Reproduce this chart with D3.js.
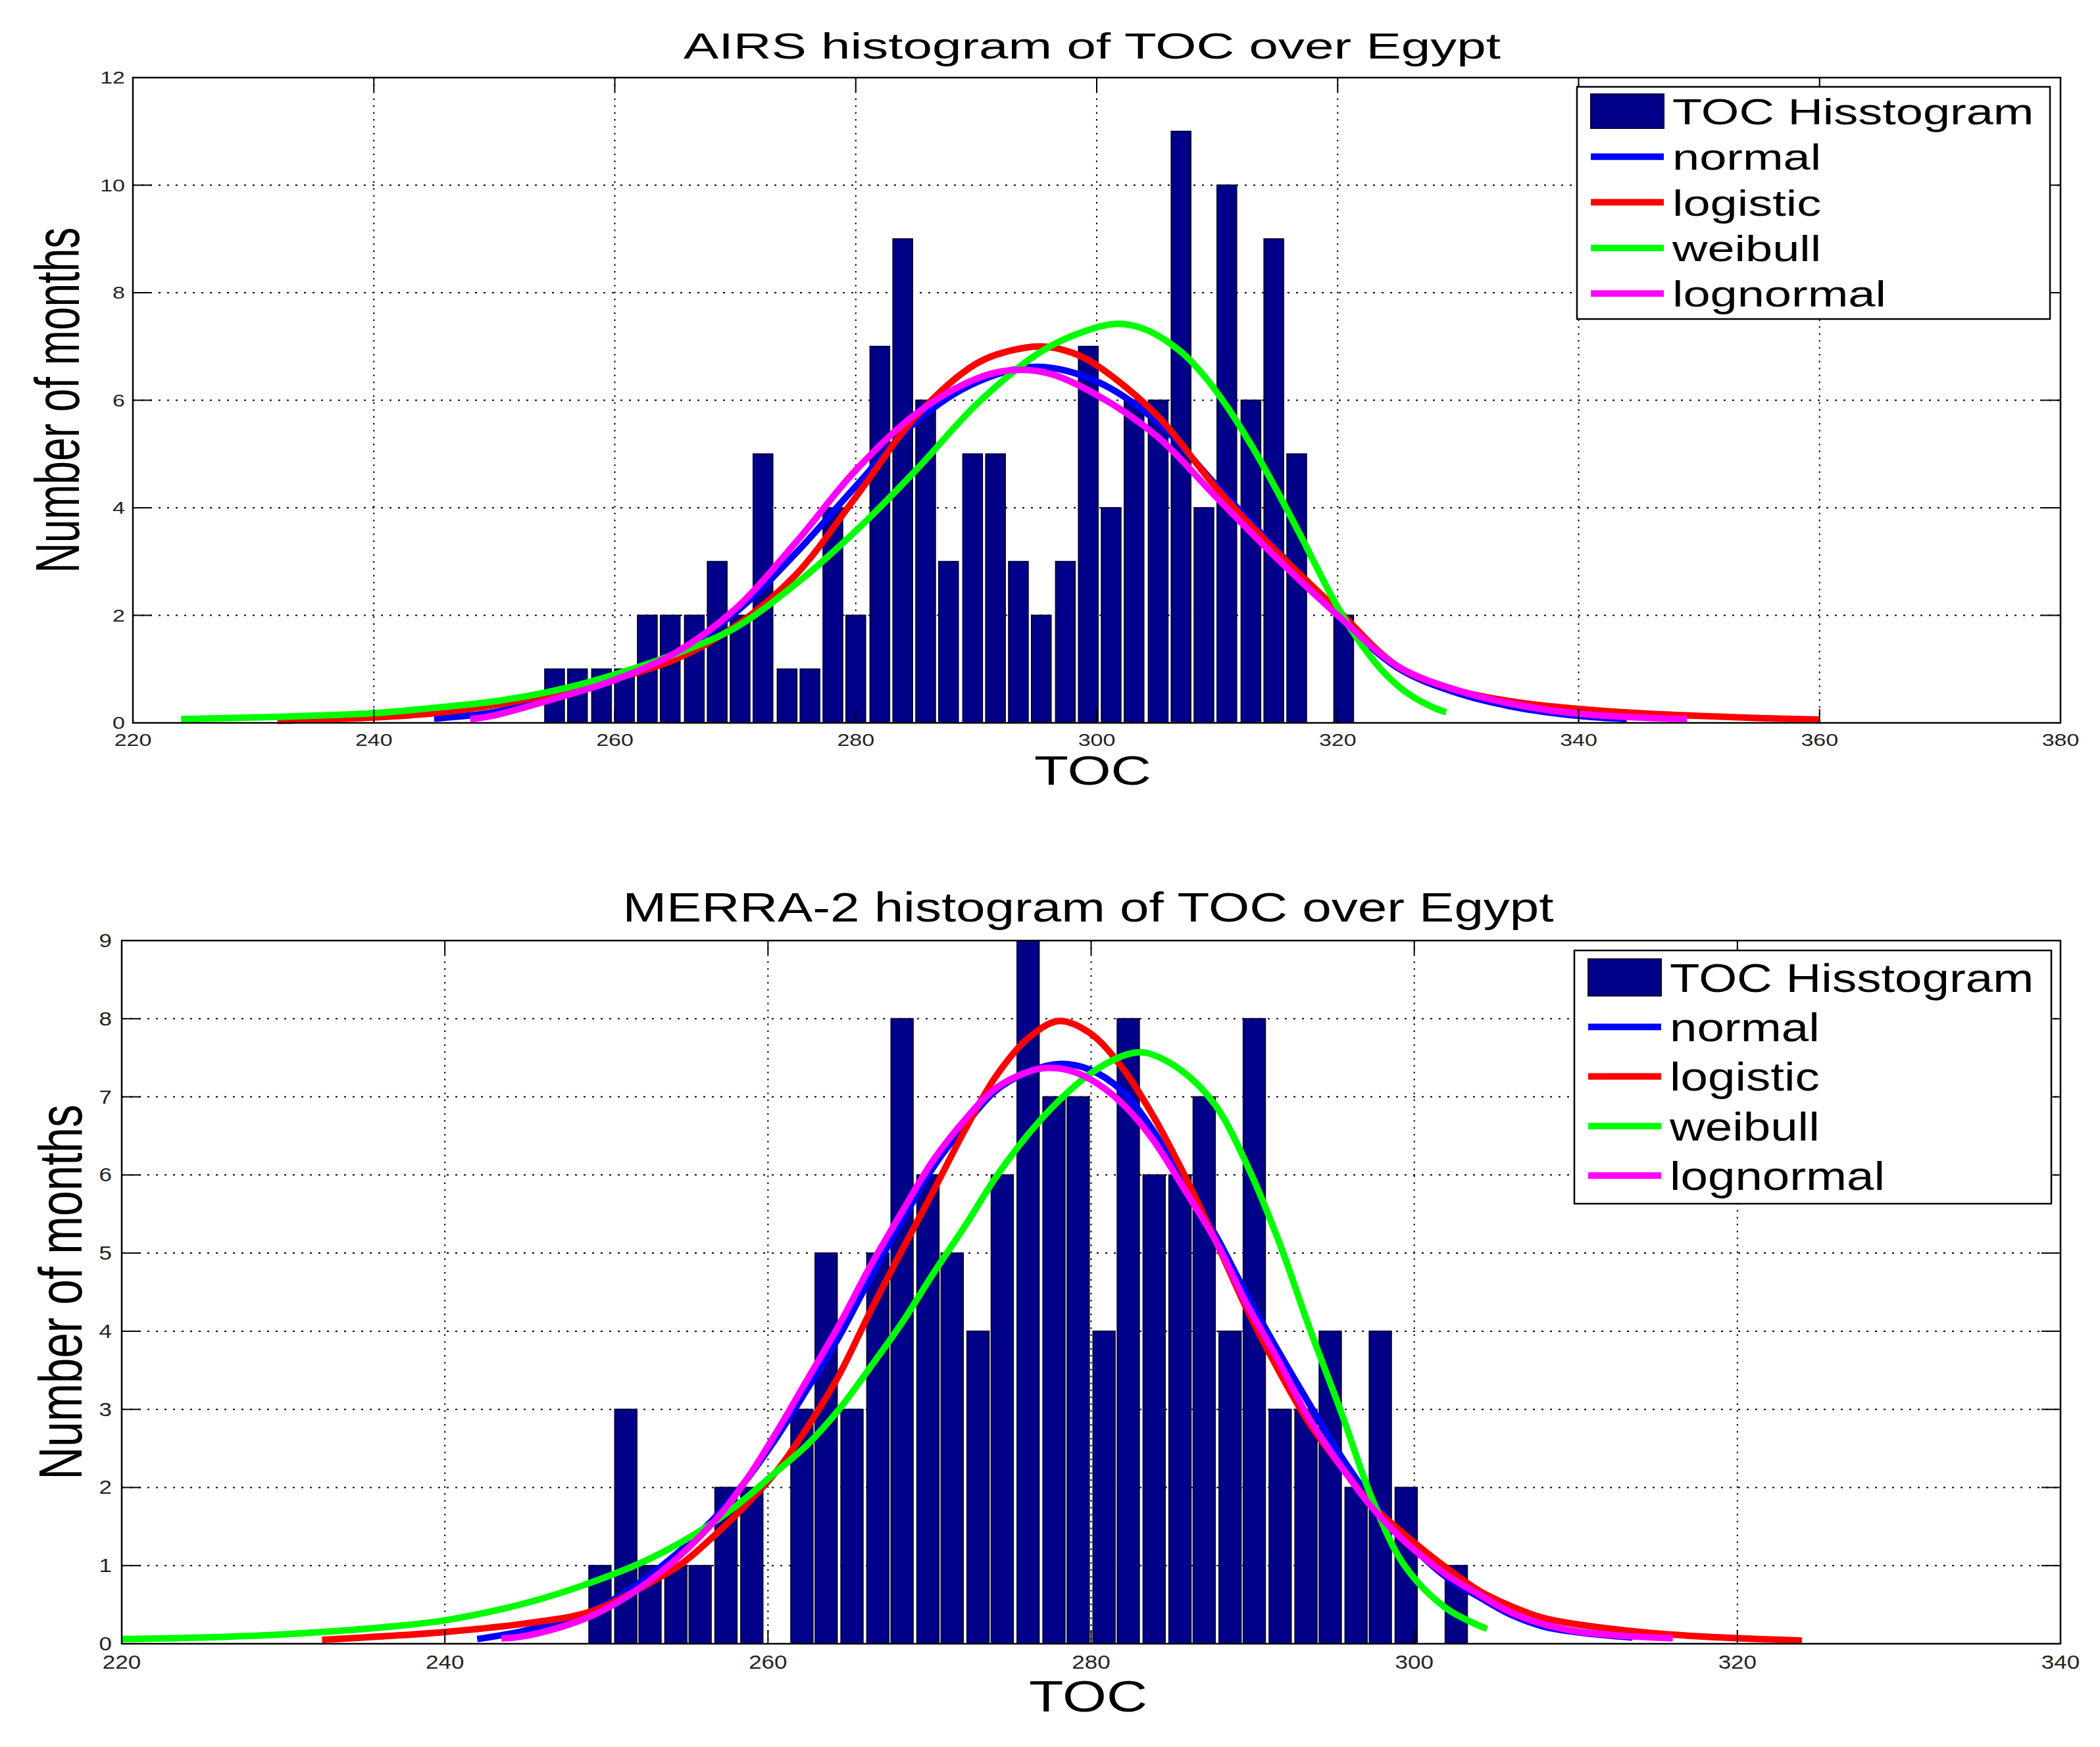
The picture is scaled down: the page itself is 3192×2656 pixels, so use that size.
<!DOCTYPE html>
<html>
<head>
<meta charset="utf-8">
<script src="https://cdn.jsdelivr.net/npm/d3@7"></script>
<style>
body { margin: 0; background: #fff; }
text { font-family: 'Liberation Sans', Arial, Helvetica, sans-serif; }
</style>
</head>
<body>
<svg id="fig" width="3192" height="2656"></svg>
<script>
// AIRS (top panel)
const airsCenters = [255.0, 256.9, 258.9, 260.8, 262.7, 264.6, 266.6, 268.5, 270.4, 272.3, 274.3, 276.2,
    278.1, 280.0, 282.0, 283.9, 285.8, 287.7, 289.7, 291.6, 293.5, 295.4, 297.4, 299.3, 301.2, 303.1,
    305.1, 307.0, 308.9, 310.8, 312.8, 314.7, 316.6, 318.5, 320.5]
const airsCounts = [1, 1, 1, 1, 2, 2, 2, 3, 2, 5, 1, 1, 4, 2, 7, 9, 6, 3, 5, 5, 3, 2, 3, 7, 4, 6, 6, 11, 4, 10, 6, 9, 5, 0, 2]

const airsNormal = [[245,0.08],[250,0.2],[255,0.48],[260,0.8],[265,1.3],[270,2.05],[275,3.15],[280,4.4],[285,5.6],
    [290,6.33],[295,6.62],[300,6.35],[305,5.6],[310,4.4],[315,3.2],[320,2.0],[325,1.02],[330,0.55],[335,0.28],[340,0.13],[344,0.07]]
const airsLogistic = [[232,0.04],[240,0.1],[245,0.18],[250,0.33],[255,0.55],[260,0.82],[265,1.18],[270,1.8],[275,2.75],
    [280,4.2],[285,5.7],[290,6.68],[293,6.93],[295.5,7.0],[298,6.88],[300,6.65],[305,5.72],[310,4.35],[315,3.17],[320,2.1],
    [325,1.05],[330,0.6],[335,0.38],[340,0.26],[345,0.18],[350,0.13],[355,0.09],[360,0.06]]
const airsWeibull = [[224,0.07],[230,0.1],[240,0.18],[245,0.28],[250,0.4],[255,0.6],[260,0.9],[265,1.28],[270,1.77],
    [275,2.58],[280,3.57],[285,4.7],[290,5.92],[295,6.85],[298,7.2],[301.5,7.42],[304,7.32],[307,6.9],[309,6.43],[311,5.82],
    [313,5.1],[315,4.3],[317,3.45],[320,2.15],[322,1.45],[324,0.9],[326,0.52],[328,0.28],[329,0.2]]
const airsLognormal = [[248,0.07],[250,0.14],[255,0.45],[260,0.8],[265,1.3],[270,2.12],[275,3.35],[280,4.7],[285,5.75],
    [290,6.4],[293,6.56],[296,6.5],[300,6.1],[305,5.33],[310,4.18],[315,3.05],[320,2.0],[325,1.05],[330,0.6],[335,0.33],
    [340,0.17],[345,0.1],[349,0.07]]

const airsXTicks = [220, 240, 260, 280, 300, 320, 340, 360, 380]
const airsYTicks = [0, 2, 4, 6, 8, 10, 12]

// MERRA-2 (bottom panel)
const merraCenters = [249.6, 251.2, 252.7, 254.3, 255.8, 257.4, 259.0, 260.5, 262.1, 263.6, 265.2, 266.8,
    268.3, 269.9, 271.4, 273.0, 274.5, 276.1, 277.7, 279.2, 280.8, 282.3, 283.9, 285.5, 287.0, 288.6,
    290.1, 291.7, 293.3, 294.8, 296.4, 297.9, 299.5, 301.1, 302.6]
const merraCounts = [1, 3, 1, 1, 1, 2, 2, 0, 3, 5, 3, 5, 8, 6, 5, 4, 6, 9, 7, 7, 4, 8, 6, 6, 7, 4, 8, 3, 3, 4, 2, 4, 2, 0, 1]

const merraNormal = [[242,0.06],[245,0.17],[249,0.41],[252.7,0.88],[256.6,1.59],[258.6,2.08],[260.5,2.63],[262.4,3.25],
    [264.4,3.93],[266.3,4.67],[268.3,5.41],[270.2,6.09],[272.2,6.64],[274.1,7.08],[276.1,7.32],[278,7.42],[279.9,7.35],
    [281.9,7.08],[283.8,6.58],[285.7,5.9],[287.7,5.23],[289.6,4.48],[291.6,3.74],[293.5,3.07],[295.5,2.39],[297.4,1.83],
    [299.4,1.34],[302,0.85],[304,0.6],[306,0.37],[308,0.22],[310,0.15],[313.5,0.08]]
const merraLogistic = [[232.4,0.05],[235,0.08],[240,0.15],[245,0.26],[249,0.41],[252.7,0.78],[254.7,1.03],[256.6,1.37],
    [258.6,1.77],[260.5,2.2],[262.4,2.76],[264.4,3.44],[266.3,4.24],[268.3,5.04],[270.2,5.78],[272.2,6.58],[274.1,7.26],
    [276.1,7.75],[278,7.97],[279.9,7.82],[281.9,7.38],[283.8,6.77],[285.7,6.03],[287.7,5.16],[289.6,4.3],[291.6,3.5],
    [293.5,2.82],[295.5,2.26],[297.4,1.77],[299.4,1.4],[302,0.97],[304,0.68],[306,0.48],[308,0.33],[310,0.25],[314,0.15],
    [318,0.09],[324,0.04]]
const merraWeibull = [[220,0.06],[225,0.08],[230,0.12],[235,0.19],[240,0.3],[245,0.52],[249,0.78],[252.7,1.09],
    [256.6,1.55],[258.6,1.86],[260.5,2.2],[262.4,2.54],[264.4,3.0],[266.3,3.53],[268.3,4.11],[270.2,4.73],[272.2,5.35],
    [274.1,5.97],[276.1,6.52],[278,6.95],[279.9,7.29],[281.9,7.52],[283,7.57],[283.8,7.54],[285.7,7.32],[287.7,6.89],
    [289.6,6.15],[291.6,5.16],[293.5,4.05],[295.5,2.95],[297.4,1.85],[299.4,1.0],[302,0.45],[304.5,0.19]]
const merraLognormal = [[243.5,0.07],[245,0.1],[249,0.35],[252.7,0.81],[256.6,1.55],[258.6,2.08],[260.5,2.7],[262.4,3.37],
    [264.4,4.08],[266.3,4.82],[268.3,5.53],[270.2,6.18],[272.2,6.71],[274.1,7.11],[276.1,7.32],[277.2,7.37],[278.4,7.35],
    [279.9,7.23],[281.9,6.92],[283.8,6.46],[285.7,5.84],[287.7,5.16],[289.6,4.36],[291.6,3.62],[293.5,2.88],[295.5,2.26],
    [297.4,1.74],[299.4,1.31],[302,0.88],[304,0.63],[306,0.4],[308,0.25],[310,0.16],[313,0.1],[316,0.07]]

const merraXTicks = [220, 240, 260, 280, 300, 320, 340]
const merraYTicks = [0, 1, 2, 3, 4, 5, 6, 7, 8, 9]

const legendLabels = ['TOC Hisstogram', 'normal', 'logistic', 'weibull', 'lognormal']
const curveColors = ['#0000ff', '#ff0000', '#00ff00', '#ff00ff']

const barFill = '#000088', barEdge = '#00003c'

let panels = [
    {
        title: 'AIRS histogram of TOC over Egypt',
        box: {left: 202, right: 3132, top: 118, bottom: 1099},
        xDomain: [220, 380], yDomain: [0, 12],
        xTicks: airsXTicks, yTicks: airsYTicks,
        centers: airsCenters, counts: airsCounts,
        curves: [airsNormal, airsLogistic, airsWeibull, airsLognormal],
        titlePos: {x: 1660, y: 89, size: 80, sy: 0.70},
        xLabelPos: {x: 1661, y: 1193, size: 85, sy: 0.745},
        yLabelPos: {x: 120, size: 94, sx: 0.68},
        tick: {size: 34, sy: 0.78, xOff: 35, yOff: 9, yGap: 12},
        legend: {x: 2397, y: 132, w: 719, h: 353, row0: 169, step: 69.3, patchH: 52, size: 74, sy: 0.755}
    },
    {
        title: 'MERRA-2 histogram of TOC over Egypt',
        box: {left: 185, right: 3132, top: 1430, bottom: 2499},
        xDomain: [220, 340], yDomain: [0, 9],
        xTicks: merraXTicks, yTicks: merraYTicks,
        centers: merraCenters, counts: merraCounts,
        curves: [merraNormal, merraLogistic, merraWeibull, merraLognormal],
        titlePos: {x: 1654, y: 1401, size: 80, sy: 0.78},
        xLabelPos: {x: 1654, y: 2602, size: 86, sy: 0.78},
        yLabelPos: {x: 124, size: 93, sx: 0.746},
        tick: {size: 35, sy: 0.85, xOff: 38, yOff: 10, yGap: 15},
        legend: {x: 2393, y: 1445, w: 725, h: 385, row0: 1486, step: 75.3, patchH: 56, size: 74.5, sy: 0.81}
    }
]

let svg = d3.select('#fig')

let label = (g, str, x, y, size, sy, anchor, fill) => {
    return g.append('text')
        .attr('transform', 'translate(' + x + ',' + y + ') scale(1,' + sy + ')')
        .attr('text-anchor', anchor)
        .style('font-size', size + 'px')
        .style('fill', fill || '#000')
        .text(str)
}

let drawPanel = p => {
    let b = p.box
    let g = svg.append('g')

    let x = d3.scaleLinear().domain(p.xDomain).range([b.left, b.right])
    let y = d3.scaleLinear().domain(p.yDomain).range([b.bottom, b.top])

    // grid (under the bars)
    let inner = d => d > p.xDomain[0] && d < p.xDomain[1]
    g.append('g').selectAll('line')
        .data(p.xTicks.filter(inner))
        .enter().append('line')
            .attr('x1', d => x(d)).attr('x2', d => x(d))
            .attr('y1', b.top).attr('y2', b.bottom)
            .attr('stroke', '#000').attr('stroke-width', 2)
            .attr('stroke-dasharray', '2.5,8')
    g.append('g').selectAll('line')
        .data(p.yTicks.filter(d => d > p.yDomain[0] && d < p.yDomain[1]))
        .enter().append('line')
            .attr('x1', b.left).attr('x2', b.right)
            .attr('y1', d => y(d)).attr('y2', d => y(d))
            .attr('stroke', '#000').attr('stroke-width', 2)
            .attr('stroke-dasharray', '3,10')

    // histogram bars
    let barW = (x(p.centers[1]) - x(p.centers[0])) * 0.85
    let bars = p.centers.map((c, i) => ({c: c, n: p.counts[i]})).filter(d => d.n > 0)
    g.append('g').selectAll('rect')
        .data(bars)
        .enter().append('rect')
            .attr('x', d => x(d.c) - barW / 2)
            .attr('y', d => y(d.n))
            .attr('width', barW)
            .attr('height', d => y(0) - y(d.n))
            .attr('fill', barFill)
            .attr('stroke', barEdge)
            .attr('stroke-width', 2)

    // fitted curves
    let line = d3.line().x(d => x(d[0])).y(d => y(d[1])).curve(d3.curveCatmullRom.alpha(0.5))
    p.curves.forEach((c, i) => {
        g.append('path')
            .datum(c)
            .attr('d', line)
            .attr('fill', 'none')
            .attr('stroke', curveColors[i])
            .attr('stroke-width', 10)
            .attr('stroke-linejoin', 'round')
    })

    // frame and ticks
    g.append('rect')
        .attr('x', b.left).attr('y', b.top)
        .attr('width', b.right - b.left).attr('height', b.bottom - b.top)
        .attr('fill', 'none').attr('stroke', '#000').attr('stroke-width', 2.5)

    let ticks = g.append('g').attr('stroke', '#000').attr('stroke-width', 2)
    p.xTicks.forEach(t => {
        ticks.append('line').attr('x1', x(t)).attr('x2', x(t)).attr('y1', b.bottom).attr('y2', b.bottom - 21)
        ticks.append('line').attr('x1', x(t)).attr('x2', x(t)).attr('y1', b.top).attr('y2', b.top + 21)
    })
    p.yTicks.forEach(t => {
        ticks.append('line').attr('x1', b.left).attr('x2', b.left + 29).attr('y1', y(t)).attr('y2', y(t))
        ticks.append('line').attr('x1', b.right).attr('x2', b.right - 29).attr('y1', y(t)).attr('y2', y(t))
    })

    // tick labels
    p.xTicks.forEach(t => label(g, t, x(t), b.bottom + p.tick.xOff, p.tick.size, p.tick.sy, 'middle', '#222'))
    p.yTicks.forEach(t => label(g, t, b.left - p.tick.yGap, y(t) + p.tick.yOff, p.tick.size, p.tick.sy, 'end', '#222'))

    // titles
    label(g, p.title, p.titlePos.x, p.titlePos.y, p.titlePos.size, p.titlePos.sy, 'middle')
    label(g, 'TOC', p.xLabelPos.x, p.xLabelPos.y, p.xLabelPos.size, p.xLabelPos.sy, 'middle')
    g.append('text')
        .attr('transform', 'translate(' + p.yLabelPos.x + ',' + (b.top + b.bottom) / 2 + ') rotate(-90) scale(' + p.yLabelPos.sx + ',1)')
        .attr('text-anchor', 'middle')
        .style('font-size', p.yLabelPos.size + 'px')
        .text('Number of months')

    // legend
    let L = p.legend
    let lg = g.append('g')
    lg.append('rect')
        .attr('x', L.x).attr('y', L.y).attr('width', L.w).attr('height', L.h)
        .attr('fill', '#fff').attr('stroke', '#000').attr('stroke-width', 2.5)
    let sx0 = L.x + 21, sx1 = L.x + 132
    legendLabels.forEach((name, i) => {
        let cy = L.row0 + i * L.step
        if (i == 0) {
            lg.append('rect')
                .attr('x', sx0).attr('y', cy - L.patchH / 2)
                .attr('width', sx1 - sx0).attr('height', L.patchH)
                .attr('fill', barFill).attr('stroke', barEdge).attr('stroke-width', 2)
        } else {
            lg.append('line')
                .attr('x1', sx0).attr('x2', sx1).attr('y1', cy).attr('y2', cy)
                .attr('stroke', curveColors[i - 1]).attr('stroke-width', 10)
        }
        label(lg, name, L.x + 145, cy + L.size * 0.716 * L.sy / 2, L.size, L.sy, 'start')
    })
}

panels.forEach(drawPanel)
</script>
</body>
</html>
